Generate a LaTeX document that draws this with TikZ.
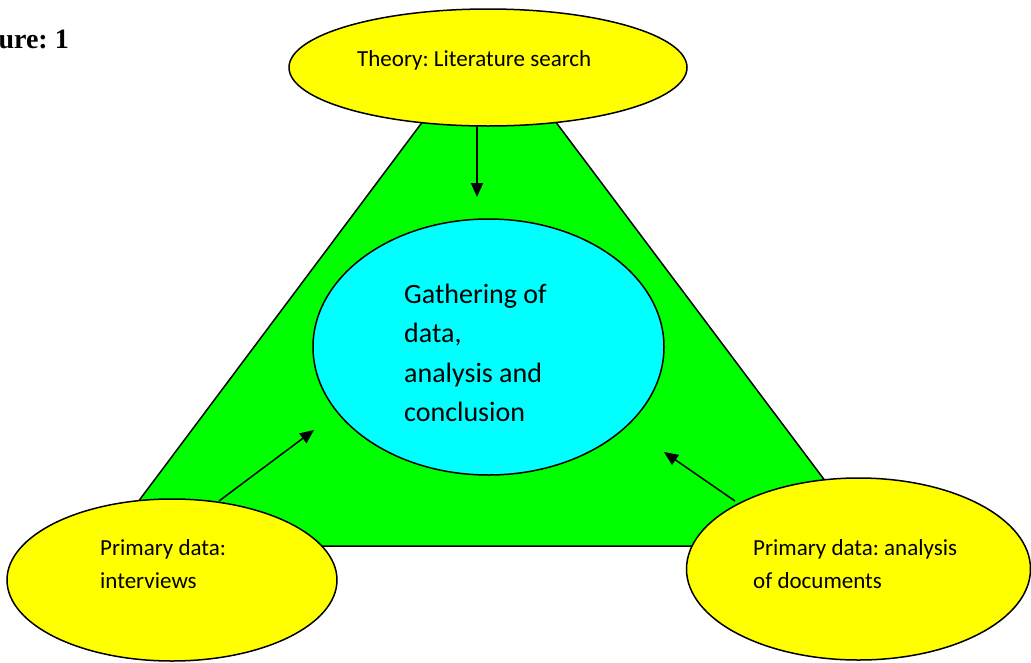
\documentclass[tikz,border=0pt]{standalone}
\usepackage{fontspec}
\setmainfont{Carlito}
\newfontfamily\titlefont{Liberation Serif}
\usetikzlibrary{shapes.geometric,arrows.meta}
\definecolor{ylw}{HTML}{FFFF00}
\definecolor{grn}{HTML}{00FF00}
\definecolor{cyn}{HTML}{00FFFF}
\frenchspacing
\begin{document}
\begin{tikzpicture}[x=1pt,y=-1pt,
  outl/.style={draw=black,line width=1.5pt},
  oval/.style={ellipse,outl,inner sep=0pt},
  yoval/.style={oval,fill=ylw},
  smalltxt/.style={inner sep=0pt,anchor=base west,align=left,font=\frenchspacing\fontsize{23}{33}\selectfont},
  bigtxt/.style={inner sep=0pt,anchor=base west,align=left,font=\frenchspacing\fontsize{28}{39.5}\selectfont},
  arr/.style={line width=1.5pt,-{Triangle[length=14pt,width=12pt]}}]
\useasboundingbox (0,0) rectangle (1031,662);
% triangle
\draw[outl,fill=grn,line join=miter] (489,33) -- (874,546) -- (105,546) -- cycle;
% ellipses
\node[yoval,minimum width=398pt,minimum height=117pt] (top) at (488,67.5) {};
\node[oval,fill=cyn,minimum width=351pt,minimum height=256pt] (mid) at (488.5,347) {};
\node[yoval,minimum width=330pt,minimum height=162pt] (bl) at (172,580) {};
\node[yoval,minimum width=344pt,minimum height=182pt] (br) at (858.5,569) {};
% texts (base anchor = baseline of the last line)
\node[smalltxt] (ttop) at (357,66) {Theory: Literature search};
\node[bigtxt] (tmid) at (404,421.5) {Gathering of\\data,\\analysis and\\conclusion};
\node[smalltxt] (tbl) at (100,588) {Primary data:\\interviews};
\node[smalltxt] (tbr) at (753,588) {Primary data: analysis\\of documents};
\node[inner sep=0pt,anchor=base east,font=\titlefont\bfseries\fontsize{28}{32}\selectfont] (fig) at (69,48) {ure: 1};
% arrows
\coordinate (a1s) at (477,126);
\coordinate (a1e) at (477,197);
\coordinate (a2s) at (219,501);
\coordinate (a2e) at (314,430);
\coordinate (a3s) at (735,501);
\coordinate (a3e) at (664,452);
\draw[arr] (a1s) -- (a1e);
\draw[arr] (a2s) -- (a2e);
\draw[arr] (a3s) -- (a3e);
\end{tikzpicture}
\end{document}
